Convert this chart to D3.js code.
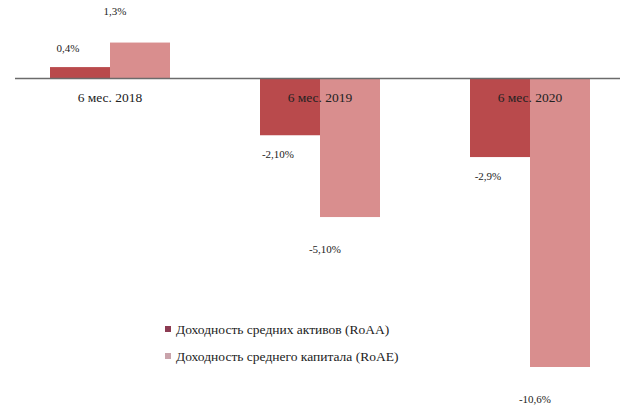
<!DOCTYPE html>
<html><head><meta charset="utf-8">
<script src="https://cdn.jsdelivr.net/npm/d3@7"></script>
<style>body{margin:0;background:#fff}svg{display:block}</style>
</head><body><svg id="c" width="622" height="409" font-family="'Liberation Serif', 'DejaVu Serif', serif"></svg>
<script>
const categories = ["6 мес. 2018", "6 мес. 2019", "6 мес. 2020"];
const seriesNames = ["Доходность средних активов (RoAA)", "Доходность среднего капитала (RoAE)"];
const roaa = [0.4, -2.1, -2.9];
const roae = [1.3, -5.1, -10.6];
const roaaLabels = ["0,4%", "-2,10%", "-2,9%"];
const roaeLabels = ["1,3%", "-5,10%", "-10,6%"];

const series = [
  {name: seriesNames[0], values: roaa, labels: roaaLabels, color: "#b94a4c", legend: "#8c3b52", dx: -12, dy: 19},
  {name: seriesNames[1], values: roae, labels: roaeLabels, color: "#d98e8e", legend: "#c9a3ab", dx: -25, dy: 32}
];

const svg = d3.select("#c");
const x = d3.scaleBand().domain(categories).range([5, 635]).paddingInner(90/210).paddingOuter(45/210);
const xs = d3.scaleBand().domain([0, 1]).range([0, x.bandwidth()]);
const y = d3.scaleLinear().domain([-11, 1.5]).range([377.9, 37.1]);

series.forEach((s, si) => {
  const g = svg.append("g");
  g.selectAll("rect").data(categories).join("rect")
    .attr("x", c => x(c) + xs(si))
    .attr("width", xs.bandwidth())
    .attr("y", (c, i) => y(Math.max(0, s.values[i])))
    .attr("height", (c, i) => Math.abs(y(s.values[i]) - y(0)))
    .attr("fill", s.color);
});

// axis line
const axis = d3.axisBottom(x).tickSize(0).tickFormat("");
const ag = svg.append("g").attr("transform", `translate(0,${y(0)})`).call(axis);
ag.attr("font-family", null);
ag.select(".domain").attr("d", "M15,0.5H620").attr("stroke", "#6b6b6b").attr("stroke-width", 1.3);

const txt = sel => sel.attr("font-family", "'Liberation Serif', 'DejaVu Serif', serif").attr("fill", "#222");

// category labels
svg.selectAll(".cat").data(categories).join("text")
  .attr("class", "cat")
  .attr("x", c => x(c) + x.bandwidth() / 2)
  .attr("y", y(0) + 24)
  .attr("text-anchor", "middle")
  .attr("font-size", 13.5)
  .call(txt)
  .text(c => c);

// value labels
series.forEach((s, si) => {
  svg.selectAll(".v" + si).data(categories).join("text")
    .attr("x", c => x(c) + xs(si) + xs.bandwidth() / 2 + s.dx)
    .attr("y", (c, i) => s.values[i] >= 0 ? y(s.values[i]) - s.dy + 4 : y(s.values[i]) + s.dy + 4)
    .attr("text-anchor", "middle")
    .attr("font-size", 11)
    .call(txt)
    .text((c, i) => s.labels[i]);
});

// legend
const lg = svg.append("g").attr("transform", "translate(165,329)");
series.forEach((s, si) => {
  const row = lg.append("g").attr("transform", `translate(0,${si * 27})`);
  row.append("rect").attr("x", 0).attr("y", -3).attr("width", 6).attr("height", 6).attr("fill", s.legend);
  row.append("text").attr("x", 11).attr("y", 4.5).attr("font-size", 13.5).call(txt).text(s.name);
});
</script></body></html>
